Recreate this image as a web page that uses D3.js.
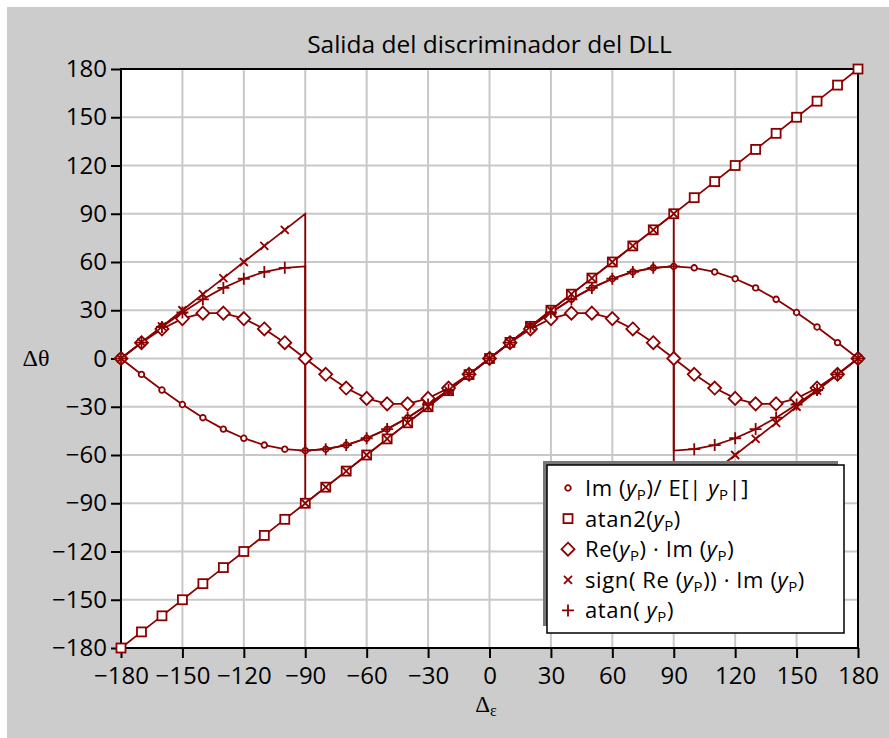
<!DOCTYPE html>
<html>
<head>
<meta charset="utf-8">
<script src="https://cdn.jsdelivr.net/npm/d3@7"></script>
<style>
  html, body { margin: 0; padding: 0; background: #fff; }
  svg { display: block; }
</style>
</head>
<body>
<div id="chart"></div>
<script>
// Data
const title = "Salida del discriminador del DLL";
const xVals = [-180, -170, -160, -150, -140, -130, -120, -110, -100, -90, -80, -70, -60, -50, -40, -30, -20, -10, 0,
  10, 20, 30, 40, 50, 60, 70, 80, 90, 100, 110, 120, 130, 140, 150, 160, 170, 180];
const xTicks = [-180, -150, -120, -90, -60, -30, 0, 30, 60, 90, 120, 150, 180];
const yTicks = [-180, -150, -120, -90, -60, -30, 0, 30, 60, 90, 120, 150, 180];

// circles: Im(yP)/E[|yP|]
const circleVals = [0, -9.9, -19.6, -28.6, -36.8, -43.9, -49.6, -53.8, -56.4, -57.3, -56.4, -53.8, -49.6, -43.9, -36.8, -28.6, -19.6, -9.9, 0,
  9.9, 19.6, 28.6, 36.8, 43.9, 49.6, 53.8, 56.4, 57.3, 56.4, 53.8, 49.6, 43.9, 36.8, 28.6, 19.6, 9.9, 0];
// squares: atan2(yP)
const squareVals = [-180, -170, -160, -150, -140, -130, -120, -110, -100, -90, -80, -70, -60, -50, -40, -30, -20, -10, 0,
  10, 20, 30, 40, 50, 60, 70, 80, 90, 100, 110, 120, 130, 140, 150, 160, 170, 180];
// diamonds: Re(yP)·Im(yP)
const diamondVals = [0, 9.8, 18.4, 24.8, 28.2, 28.2, 24.8, 18.4, 9.8, 0, -9.8, -18.4, -24.8, -28.2, -28.2, -24.8, -18.4, -9.8, 0,
  9.8, 18.4, 24.8, 28.2, 28.2, 24.8, 18.4, 9.8, 0, -9.8, -18.4, -24.8, -28.2, -28.2, -24.8, -18.4, -9.8, 0];
// crosses (x)
const crossVals = [0, 10, 20, 30, 40, 50, 60, 70, 80, -90, -80, -70, -60, -50, -40, -30, -20, -10, 0,
  10, 20, 30, 40, 50, 60, 70, 80, 90, -80, -70, -60, -50, -40, -30, -20, -10, 0];
const crossJumps = [[-90, 90, "before"], [90, -90, "after"]];
// plus (+)
const plusVals = [0, 9.9, 19.6, 28.6, 36.8, 43.9, 49.6, 53.8, 56.4, -57.3, -56.4, -53.8, -49.6, -43.9, -36.8, -28.6, -19.6, -9.9, 0,
  9.9, 19.6, 28.6, 36.8, 43.9, 49.6, 53.8, 56.4, 57.3, -56.4, -53.8, -49.6, -43.9, -36.8, -28.6, -19.6, -9.9, 0];
const plusJumps = [[-90, 57.3, "before"], [90, -57.3, "after"]];

// legend labels: [text, italic?, subscript?]
const legendLabels = [
  [["Im (", 0, 0], ["y", 1, 0], ["P", 0, 1], [")/ E[| ", 0, 0], ["y", 1, 0], ["P", 0, 1], ["|]", 0, 0]],
  [["atan2(", 0, 0], ["y", 1, 0], ["P", 0, 1], [")", 0, 0]],
  [["Re(", 0, 0], ["y", 1, 0], ["P", 0, 1], [") · Im (", 0, 0], ["y", 1, 0], ["P", 0, 1], [")", 0, 0]],
  [["sign( Re (", 0, 0], ["y", 1, 0], ["P", 0, 1], [")) · Im (", 0, 0], ["y", 1, 0], ["P", 0, 1], [")", 0, 0]],
  [["atan( ", 0, 0], ["y", 1, 0], ["P", 0, 1], [")", 0, 0]]
];

const W = 889, H = 738;
const color = "#8b0000";
const sans = "'Open Sans', 'DejaVu Sans', sans-serif";
const serif = "'Liberation Serif', 'DejaVu Serif', serif";
const margin = { top: 69, right: 31, bottom: 90, left: 121 };

const svg = d3.select("#chart").append("svg")
  .attr("width", W).attr("height", H)
  .style("font-family", sans);

svg.append("rect").attr("x", 7).attr("y", 7).attr("width", W - 7).attr("height", H - 7)
  .attr("fill", "#cccccc");

const x = d3.scaleLinear().domain([-180, 180]).range([margin.left, W - margin.right]);
const y = d3.scaleLinear().domain([-180, 180]).range([H - margin.bottom, margin.top]);

// plot background
svg.append("rect")
  .attr("x", x(-180)).attr("y", y(180))
  .attr("width", x(180) - x(-180)).attr("height", y(-180) - y(180))
  .attr("fill", "#fff");

// grid
svg.append("g").selectAll("line").data(xTicks.slice(1, -1)).join("line")
  .attr("x1", d => x(d)).attr("x2", d => x(d))
  .attr("y1", y(180)).attr("y2", y(-180))
  .attr("stroke", "#c8c8c8").attr("stroke-width", 2);
svg.append("g").selectAll("line").data(yTicks.slice(1, -1)).join("line")
  .attr("x1", x(-180)).attr("x2", x(180))
  .attr("y1", d => y(d)).attr("y2", d => y(d))
  .attr("stroke", "#c8c8c8").attr("stroke-width", 2);

// axes
const xAxis = svg.append("g")
  .attr("transform", `translate(0,${y(-180)})`)
  .call(d3.axisBottom(x).tickValues(xTicks).tickSize(10).tickPadding(9).tickFormat(d3.format("d")));
const yAxis = svg.append("g")
  .attr("transform", `translate(${x(-180)},0)`)
  .call(d3.axisLeft(y).tickValues(yTicks).tickSize(10).tickPadding(4).tickFormat(d3.format("d")));
[xAxis, yAxis].forEach(a => {
  a.select(".domain").remove();
  a.selectAll(".tick line").attr("stroke", "#000").attr("stroke-width", 2);
  a.selectAll(".tick text").attr("fill", "#000")
    .style("font-size", "24px").style("font-family", sans);
});

// frame
svg.append("rect")
  .attr("x", x(-180)).attr("y", y(180))
  .attr("width", x(180) - x(-180)).attr("height", y(-180) - y(180))
  .attr("fill", "none").attr("stroke", "#000").attr("stroke-width", 2);

// title and axis labels
svg.append("text").attr("x", (x(-180) + x(180)) / 2).attr("y", 53)
  .attr("text-anchor", "middle").style("font-size", "24.5px").text(title);

svg.append("text").attr("x", 36).attr("y", y(0) + 7)
  .attr("text-anchor", "middle").style("font-size", "24px").style("font-family", serif)
  .text("Δθ");
const xl = svg.append("text").attr("x", 486).attr("y", 712)
  .attr("text-anchor", "middle").style("font-size", "23px").style("font-family", serif);
xl.append("tspan").text("Δ");
xl.append("tspan").style("font-size", "16px").attr("dy", 4).text("ε");

// markers
const markers = {
  circle: g => g.append("circle").attr("r", 2.8),
  square: g => g.append("rect").attr("x", -4.5).attr("y", -4.5).attr("width", 9).attr("height", 9),
  diamond: g => g.append("path").attr("d", "M0,-6.5L6.5,0L0,6.5L-6.5,0Z"),
  cross: g => g.append("path").attr("d", "M-4,-4L4,4M-4,4L4,-4"),
  plus: g => g.append("path").attr("d", "M-6,0L6,0M0,-6L0,6")
};

const series = [
  { name: "circle", vals: circleVals, jumps: [] },
  { name: "square", vals: squareVals, jumps: [] },
  { name: "diamond", vals: diamondVals, jumps: [] },
  { name: "cross", vals: crossVals, jumps: crossJumps },
  { name: "plus", vals: plusVals, jumps: plusJumps }
];

const line = d3.line().x(d => x(d[0])).y(d => y(d[1]));

series.forEach(s => {
  const pts = xVals.map((v, i) => [v, s.vals[i]]);
  const linePts = [];
  pts.forEach(p => {
    s.jumps.filter(j => j[0] === p[0] && j[2] === "before").forEach(j => linePts.push([j[0], j[1]]));
    linePts.push(p);
    s.jumps.filter(j => j[0] === p[0] && j[2] === "after").forEach(j => linePts.push([j[0], j[1]]));
  });
  s.pts = pts;
  svg.append("path").datum(linePts)
    .attr("d", line).attr("fill", "none")
    .attr("stroke", color).attr("stroke-width", 1.8);
});

series.forEach(s => {
  svg.append("g").selectAll("g").data(s.pts).join("g")
    .attr("transform", d => `translate(${x(d[0])},${y(d[1])})`)
    .each(function () {
      markers[s.name](d3.select(this))
        .attr("fill", "#fff").attr("stroke", color).attr("stroke-width", 1.8);
    });
});

// legend
const lg = svg.append("g");
const lx = 547, ly = 465, lw = 297, lh = 168;
lg.append("rect").attr("x", lx - 4).attr("y", ly - 4).attr("width", lw - 2).attr("height", lh - 3)
  .attr("fill", "#777");
lg.append("rect").attr("x", lx).attr("y", ly).attr("width", lw).attr("height", lh)
  .attr("fill", "#fff").attr("stroke", "#000").attr("stroke-width", 1.5);

legendLabels.forEach((lab, i) => {
  const by = 496 + i * 30.6;
  const mg = lg.append("g").attr("transform", `translate(568,${by - 8})`);
  markers[series[i].name](mg).attr("fill", "#fff").attr("stroke", color).attr("stroke-width", 1.8);
  const t = lg.append("text").attr("x", 585).attr("y", by).attr("fill", "#000")
    .style("font-size", "22px").style("letter-spacing", "0.6px");
  let shifted = false;
  lab.forEach(seg => {
    const ts = t.append("tspan").text(seg[0]);
    if (seg[1]) ts.style("font-style", "italic");
    if (seg[2]) { ts.style("font-size", "15px").attr("dy", 4); shifted = true; }
    else if (shifted) { ts.attr("dy", -4); shifted = false; }
  });
});
</script>
</body>
</html>
